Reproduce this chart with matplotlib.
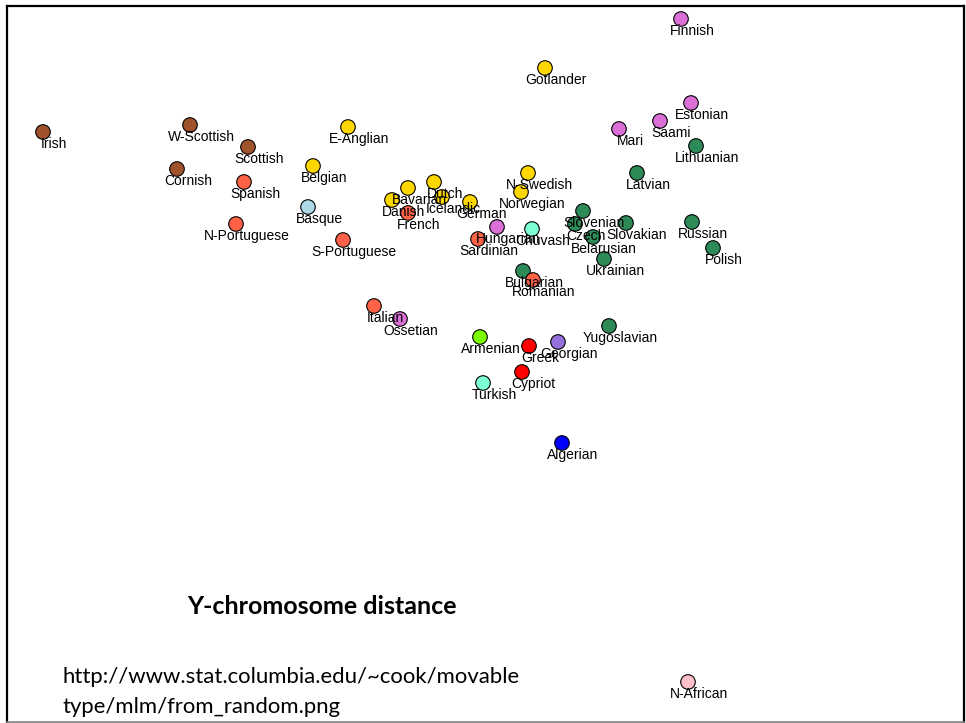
import matplotlib
matplotlib.use("Agg")
import matplotlib.pyplot as plt

# ---- data (pixel-space MDS coordinates) ----
names = ["Irish", "W-Scottish", "Scottish", "Cornish", "Spanish", "N-Portuguese",
         "Belgian", "Basque", "E-Anglian", "S-Portuguese", "Gotlander", "Bavarian",
         "Danish", "Dutch", "Icelandic", "French", "German", "N-Swedish", "Norwegian",
         "Hungarian", "Sardinian", "Chuvash", "Finnish", "Estonian", "Saami", "Mari",
         "Lithuanian", "Latvian", "Slovenian", "Czech", "Slovakian", "Belarusian",
         "Russian", "Polish", "Ukrainian", "Bulgarian", "Romanian", "Italian",
         "Ossetian", "Armenian", "Greek", "Georgian", "Yugoslavian", "Cypriot",
         "Turkish", "Algerian", "N-African"]
x = [43, 190, 248, 177, 244, 236,
     313, 308, 348, 343, 545, 408,
     392, 434, 442, 408, 470, 528, 521,
     497, 478, 532, 681, 691, 660, 619,
     696, 637, 583, 575, 626, 593,
     692, 713, 604, 523, 533, 374,
     400, 480, 529, 558, 609, 522,
     483, 562, 688]
y = [132, 125, 147, 169, 182, 224,
     166, 207, 127, 240, 68, 188,
     200, 182, 197, 213, 202, 173, 192,
     227, 239, 229, 19, 103, 121, 129,
     146, 173, 211, 224, 223, 237,
     222, 248, 259, 271, 280, 306,
     319, 337, 346, 342, 326, 372,
     383, 443, 682]
groups = ["celtic", "celtic", "celtic", "celtic", "iberian", "iberian",
          "germanic", "basque", "germanic", "iberian", "germanic", "germanic",
          "germanic", "germanic", "germanic", "iberian", "germanic", "germanic", "germanic",
          "uralic", "iberian", "turkic", "uralic", "uralic", "uralic", "uralic",
          "slavic", "slavic", "slavic", "slavic", "slavic", "slavic",
          "slavic", "slavic", "slavic", "slavic", "iberian", "iberian",
          "uralic", "armenian", "greek", "georgian", "slavic", "greek",
          "turkic", "algerian", "nafrican"]
group_colors = {"celtic": "#A0522D", "iberian": "#FF6347", "germanic": "#FFD700",
                "basque": "#ADD8E6", "uralic": "#DA70D6", "slavic": "#2E8B57",
                "turkic": "#7FFFD4", "armenian": "#7CFC00", "greek": "#FF0000",
                "georgian": "#9370DB", "algerian": "#0000FF", "nafrican": "#FFC0CB"}

title_text = "Y-chromosome distance"
source_lines = ["http://www.stat.columbia.edu/~cook/movable", "type/mlm/from_random.png"]

W, H = 966, 723
fig = plt.figure(figsize=(W / 100, H / 100), dpi=100)
fig.patch.set_facecolor("white")

# frame from x=7..964, y=6..722 (pixels)
left, right, top, bottom = 7, 964, 6, 722
ax = fig.add_axes([left / W, (H - bottom) / H, (right - left) / W, (bottom - top) / H])
ax.set_xlim(left, right)
ax.set_ylim(bottom, top)
ax.set_xticks([])
ax.set_yticks([])
for s in ["left", "right", "top"]:
    ax.spines[s].set_linewidth(1.6)
    ax.spines[s].set_color("black")
ax.spines["bottom"].set_linewidth(1.2)
ax.spines["bottom"].set_color("#808080")

cols = [group_colors[g] for g in groups]
ax.scatter(x, y, s=110, c=cols, edgecolors="black", linewidths=0.8, zorder=2)

for n, xi, yi in zip(names, x, y):
    ax.annotate(n, (xi, yi), xytext=(11, -12), textcoords="offset pixels",
                ha="center", va="center", fontsize=10, family="Liberation Sans",
                color="black", zorder=3)

fig.text(322 / W, 1 - 606 / H, title_text, ha="center", va="center",
         fontsize=18, fontweight="bold", family="Lato")
fig.text(62 / W, 1 - 677 / H, source_lines[0], ha="left", va="center",
         fontsize=15.9, family="Lato")
fig.text(62 / W, 1 - 707 / H, source_lines[1], ha="left", va="center",
         fontsize=15.9, family="Lato")

fig.savefig("out.png", dpi=100, facecolor="white")
